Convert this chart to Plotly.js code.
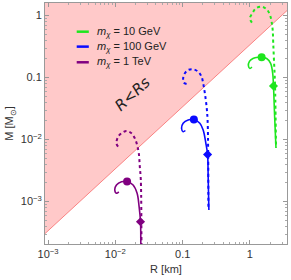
<!DOCTYPE html>
<html><head><meta charset="utf-8">
<script src="https://cdn.plot.ly/plotly-3.0.1.min.js"></script>
<style>body{margin:0;background:#fff}#c{width:291px;height:280px}</style>
</head><body><div id="c"></div>
<script>
// Schwarzschild radius per solar mass [km]
const rsPerMsun = 2.95;
const boundaryR = [1e-4, 10];

// m_chi = 10 GeV
const g_dot_R = [1.07,1.00,1.10,1.228,1.493,1.772,1.984,2.10,2.18,2.22,2.276,2.355,2.44];
const g_dot_M = [0.768,0.905,1.114,1.311,1.391,1.264,1.022,0.797,0.586,0.361,0.192,0.0818,0.00732];
const g_sol_R = [1.07,1.00,0.950,0.983,1.108,1.315,1.493,1.772,2.03,2.18,2.24,2.33,2.44];
const g_sol_M = [0.148,0.140,0.154,0.182,0.203,0.2126,0.2126,0.203,0.170,0.117,0.0732,0.0234,0.00732];
const g_circ = [1.493, 0.2126];
const g_diam = [2.24, 0.0732];

// m_chi = 100 GeV
const b_dot_R = [0.1143,0.1042,0.1017,0.1078,0.1208,0.1433,0.170,0.191,0.2018,0.214,0.227,0.2347,0.2395,0.2412];
const b_dot_M = [0.0788,0.0827,0.0974,0.1173,0.1326,0.136,0.1245,0.1034,0.0809,0.0558,0.0339,0.0207,0.00586,0.000732];
const b_sol_R = [0.1097,0.1017,0.0963,0.1017,0.1208,0.1468,0.180,0.2018,0.2214,0.2347,0.2395,0.2454];
const b_sol_M = [0.01402,0.0134,0.01521,0.01832,0.0207,0.0211,0.01832,0.01428,0.00871,0.00575,0.00252,0.000732];
const b_circ = [0.1468, 0.0211];
const b_diam = [0.2347, 0.00575];

// m_chi = 1 TeV
const p_dot_R = [0.01097,0.01038,0.01097,0.01233,0.01463,0.01737,0.01945,0.02104,0.0223,0.02307,0.02388,0.02444,0.02450];
const p_dot_M = [0.00768,0.00871,0.01113,0.01264,0.01376,0.01264,0.0105,0.00818,0.00601,0.00366,0.00223,0.000212,0.000114];
const p_sol_R = [0.01124,0.01038,0.0098,0.01038,0.01233,0.01493,0.01834,0.02104,0.02253,0.02363,0.02388,0.0239];
const p_sol_M = [0.00143,0.00136,0.00154,0.00185,0.00209,0.00211,0.00185,0.00136,0.000828,0.000474,0.000212,0.000114];
const p_circ = [0.01493, 0.00211];
const p_diam = [0.02363, 0.000474];

const labels = ['<i>m</i><sub><i>χ</i></sub> = 10 GeV','<i>m</i><sub><i>χ</i></sub> = 100 GeV','<i>m</i><sub><i>χ</i></sub> = 1 TeV'];
const colors = ['#1ee61e','#0a0aff','#800080'];

const xTickVals = [0.001,0.01,0.1,1];
const xTickText = ['10<sup>−3</sup>','10<sup>−2</sup>','0.1','1'];
const yTickVals = [0.001,0.01,0.1,1];
const yTickText = ['10<sup>−3</sup>','10<sup>−2</sup>','0.1','1'];

const bM = boundaryR.map(r => r / rsPerMsun);
const traces = [];
traces.push({x:[boundaryR[0],boundaryR[1],boundaryR[1],boundaryR[0]], y:[bM[0],bM[1],100,100],
  mode:'none', fill:'toself', fillcolor:'rgb(255,201,201)', hoverinfo:'skip', showlegend:false});
traces.push({x:boundaryR, y:bM, mode:'lines', line:{color:'rgb(250,130,130)',width:1}, showlegend:false});

const sets = [
  [g_dot_R,g_dot_M,g_sol_R,g_sol_M,g_circ,g_diam],
  [b_dot_R,b_dot_M,b_sol_R,b_sol_M,b_circ,b_diam],
  [p_dot_R,p_dot_M,p_sol_R,p_sol_M,p_circ,p_diam]];
sets.forEach((s,i)=>{
  const c = colors[i];
  traces.push({x:s[0],y:s[1],mode:'lines',line:{color:c,width:2,dash:'dot',shape:'spline'},showlegend:false});
  traces.push({x:s[2],y:s[3],mode:'lines',line:{color:c,width:1.6,shape:'spline'},showlegend:false});
  traces.push({x:[s[4][0]],y:[s[4][1]],mode:'markers',marker:{color:c,size:8,symbol:'circle'},showlegend:false});
  traces.push({x:[s[5][0]],y:[s[5][1]],mode:'markers',marker:{color:c,size:7,symbol:'diamond'},showlegend:false});
});

const legY = [0.881,0.819,0.754];
const shapes = [], annotations = [];
legY.forEach((yy,i)=>{
  shapes.push({type:'line',xref:'paper',yref:'paper',x0:0.131,x1:0.181,y0:yy,y1:yy,line:{color:colors[i],width:2.5}});
  annotations.push({xref:'paper',yref:'paper',x:0.205,y:yy,xanchor:'left',yanchor:'middle',showarrow:false,
    text:labels[i],font:{family:'Liberation Sans, Arial, sans-serif',size:11,color:'#222'}});
});
annotations.push({x:Math.log10(0.0180),y:Math.log10(0.054),xref:'x',yref:'y',showarrow:false,text:'<i>R</i>&lt;<i>Rs</i>',
  textangle:-43,font:{family:'DejaVu Sans, sans-serif',size:15,color:'#222'}});

const axBase = {type:'log', showgrid:false, zeroline:false, showline:true, linecolor:'#999', linewidth:1, mirror:'ticks',
  ticks:'inside', ticklen:4, tickcolor:'#999', tickfont:{family:'Liberation Sans, Arial, sans-serif',size:11,color:'#333'},
  minor:{ticks:'inside',ticklen:2,tickcolor:'#aaa',dtick:'D1'}};

const layout = {
  width:291, height:280, margin:{l:45,r:4,t:3,b:36}, paper_bgcolor:'#fff', plot_bgcolor:'#fff',
  xaxis:Object.assign({}, axBase, {range:[-3.046,0.551], tickvals:xTickVals, ticktext:xTickText,
    title:{text:'R [km]', font:{family:'Liberation Sans, Arial, sans-serif',size:11,color:'#333'}, standoff:6}}),
  yaxis:Object.assign({}, axBase, {range:[-3.684,0.203], tickvals:yTickVals, ticktext:yTickText,
    title:{text:'M [M<sub>⊙</sub>]', font:{family:'Liberation Sans, Arial, sans-serif',size:11,color:'#333'}, standoff:4}}),
  shapes:shapes, annotations:annotations, showlegend:false
};
Plotly.newPlot('c', traces, layout, {displayModeBar:false, staticPlot:true});
</script></body></html>
